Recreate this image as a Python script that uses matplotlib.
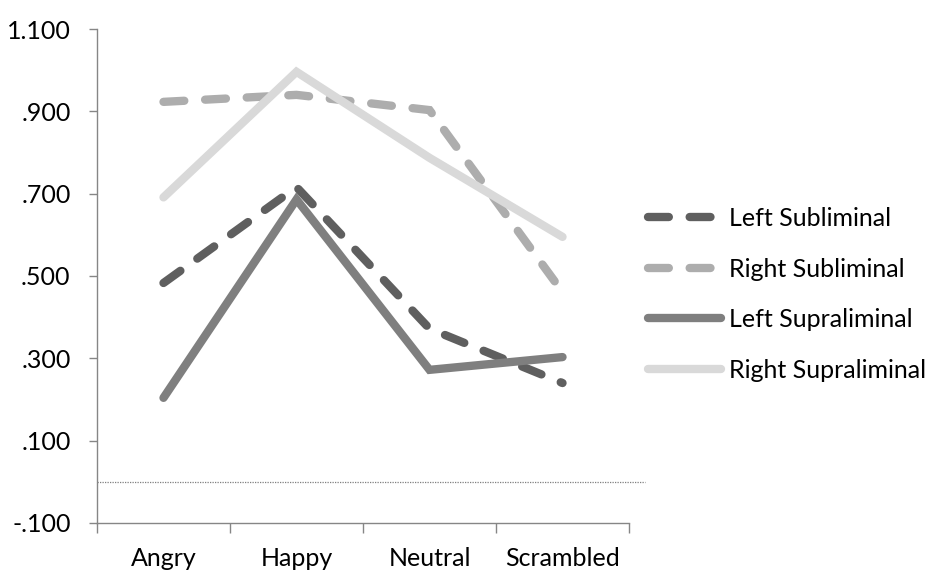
import matplotlib
matplotlib.use("Agg")
import matplotlib.pyplot as plt
from matplotlib.ticker import FixedLocator, FuncFormatter

categories = ["Angry", "Happy", "Neutral", "Scrambled"]
left_subliminal = [0.483, 0.716, 0.372, 0.240]
right_subliminal = [0.923, 0.940, 0.903, 0.461]
left_supraliminal = [0.204, 0.686, 0.272, 0.303]
right_supraliminal = [0.691, 0.996, 0.787, 0.595]
y_ticks = [-0.1, 0.1, 0.3, 0.5, 0.7, 0.9, 1.1]

plt.rcParams["font.family"] = ["Lato", "DejaVu Sans"]

fig = plt.figure(figsize=(9.38, 5.72), dpi=100)
ax = fig.add_axes([0.1034, 0.0857, 0.5672, 0.8636])

x = list(range(len(categories)))
lw = 6.0
series = [
    ("Left Subliminal", left_subliminal, "#5f5f5f", (0, (2.5, 2.5))),
    ("Right Subliminal", right_subliminal, "#adadad", (0, (2.5, 2.5))),
    ("Left Supraliminal", left_supraliminal, "#7f7f7f", "-"),
    ("Right Supraliminal", right_supraliminal, "#d9d9d9", "-"),
]
for label, vals, color, ls in series:
    ax.plot(x, vals, color=color, lw=lw, linestyle=ls, label=label,
            dash_capstyle="round", solid_capstyle="round",
            solid_joinstyle="miter", dash_joinstyle="miter")

# zero reference line
ax.plot([-0.5, 3.62], [0, 0], color="#7f7f7f", lw=0.9, linestyle=(0, (1, 1)),
        clip_on=False, zorder=0)

ax.set_xlim(-0.5, 3.5)
ax.set_ylim(-0.1, 1.1)

ax.yaxis.set_major_locator(FixedLocator(y_ticks))
def fmt(v, pos):
    s = f"{v:.3f}"
    s = s.replace("0.", ".")
    return s
ax.yaxis.set_major_formatter(FuncFormatter(fmt))

ax.xaxis.set_major_locator(FixedLocator([-0.5, 0.5, 1.5, 2.5, 3.5]))
ax.xaxis.set_major_formatter(FuncFormatter(lambda v, p: ""))
ax.xaxis.set_minor_locator(FixedLocator(x))
ax.xaxis.set_minor_formatter(FuncFormatter(lambda v, p: categories[int(round(v))]))

for side in ("top", "right"):
    ax.spines[side].set_visible(False)
for side in ("left", "bottom"):
    ax.spines[side].set_color("#868686")
    ax.spines[side].set_linewidth(1.0)

ax.tick_params(axis="y", which="major", direction="out", length=6, width=1,
               color="#868686", labelsize=18, pad=13, labelcolor="#000000")
ax.tick_params(axis="x", which="major", direction="out", length=7, width=1,
               color="#868686")
ax.tick_params(axis="x", which="minor", length=0, labelsize=18, pad=17)

leg = ax.legend(loc="center left", bbox_to_anchor=(1.035, 0.4626), frameon=False,
                fontsize=18, handlelength=2.95, handletextpad=0.3,
                labelspacing=1.1, borderaxespad=0, borderpad=0)

fig.savefig("out.png", dpi=100)
